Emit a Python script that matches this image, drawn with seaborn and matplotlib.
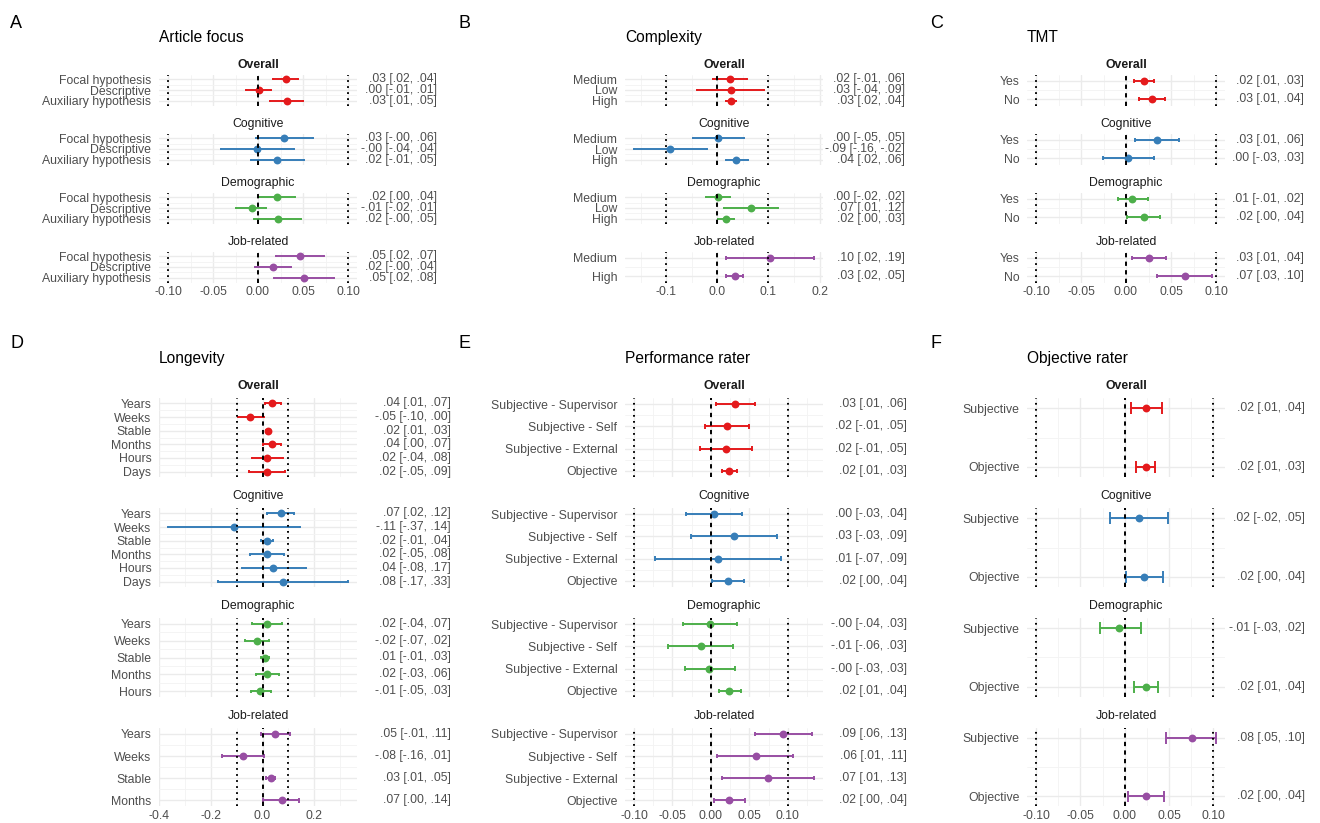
import numpy as np
import pandas as pd
import matplotlib
matplotlib.use('Agg')
import matplotlib.pyplot as plt
import seaborn as sns
from matplotlib.transforms import blended_transform_factory

sns.set_theme(style='white')
plt.rcParams['font.family'] = ['Liberation Sans', 'DejaVu Sans']
plt.rcParams['axes.axisbelow'] = True

# ---------------- data ----------------
groups = ['Overall', 'Cognitive', 'Demographic', 'Job-related']
group_colors = ['#E41A1C', '#377EB8', '#4DAF4A', '#984EA3']

# A: Article focus
article_levels = [['Focal hypothesis', 'Descriptive', 'Auxiliary hypothesis']] * 4
article_est = [[0.031, 0.001, 0.032], [0.029, -0.001, 0.021], [0.021, -0.007, 0.022], [0.047, 0.017, 0.051]]
article_lo = [[0.017, -0.013, 0.013], [-0.002, -0.0415, -0.008], [0.001, -0.024, -0.004], [0.020, -0.003, 0.018]]
article_hi = [[0.044, 0.0147, 0.050], [0.061, 0.040, 0.051], [0.041, 0.009, 0.048], [0.0735, 0.037, 0.0846]]

# B: Complexity
complexity_levels = [['Medium', 'Low', 'High']] * 3 + [['Medium', 'High']]
complexity_est = [[0.024, 0.027, 0.027], [0.002, -0.092, 0.037], [0.002, 0.066, 0.016], [0.102, 0.034]]
complexity_lo = [[-0.008, -0.039, 0.017], [-0.048, -0.163, 0.016], [-0.022, 0.013, 0.001], [0.016, 0.016]]
complexity_hi = [[0.057, 0.092, 0.037], [0.052, -0.021, 0.060], [0.024, 0.119, 0.032], [0.189, 0.050]]

# C: TMT
tmt_levels = [['Yes', 'No']] * 4
tmt_est = [[0.020, 0.029], [0.034, 0.002], [0.007, 0.020], [0.026, 0.066]]
tmt_lo = [[0.009, 0.014], [0.010, -0.026], [-0.009, 0.001], [0.007, 0.034]]
tmt_hi = [[0.031, 0.043], [0.059, 0.031], [0.024, 0.038], [0.044, 0.096]]

# D: Longevity
longevity_levels = [['Years', 'Weeks', 'Stable', 'Months', 'Hours', 'Days']] * 2 + \
                   [['Years', 'Weeks', 'Stable', 'Months', 'Hours'], ['Years', 'Weeks', 'Stable', 'Months']]
longevity_est = [[0.038, -0.047, 0.021, 0.036, 0.018, 0.016],
                 [0.070, -0.112, 0.017, 0.018, 0.042, 0.078],
                 [0.016, -0.022, 0.010, 0.018, -0.008],
                 [0.050, -0.076, 0.032, 0.074]]
longevity_lo = [[0.009, -0.096, 0.012, 0.001, -0.042, -0.053],
                [0.019, -0.366, -0.006, -0.049, -0.079, -0.173],
                [-0.042, -0.068, -0.006, -0.027, -0.046],
                [-0.006, -0.158, 0.012, 0.002]]
longevity_hi = [[0.073, 0.004, 0.029, 0.072, 0.079, 0.086],
                [0.122, 0.144, 0.040, 0.082, 0.167, 0.331],
                [0.074, 0.024, 0.027, 0.064, 0.033],
                [0.106, 0.006, 0.048, 0.143]]

# E: Performance rater
rater_levels = [['Subjective - Supervisor', 'Subjective - Self', 'Subjective - External', 'Objective']] * 4
rater_est = [[0.031, 0.021, 0.020, 0.024], [0.004, 0.030, 0.009, 0.022],
             [-0.001, -0.013, -0.002, 0.024], [0.094, 0.058, 0.074, 0.024]]
rater_lo = [[0.006, -0.008, -0.014, 0.014], [-0.033, -0.026, -0.073, 0.001],
            [-0.036, -0.056, -0.034, 0.011], [0.057, 0.008, 0.014, 0.004]]
rater_hi = [[0.057, 0.049, 0.054, 0.034], [0.041, 0.086, 0.091, 0.043],
            [0.034, 0.029, 0.031, 0.039], [0.131, 0.107, 0.134, 0.044]]

# F: Objective rater
objective_levels = [['Subjective', 'Objective']] * 4
objective_est = [[0.024, 0.024], [0.016, 0.022], [-0.006, 0.024], [0.076, 0.024]]
objective_lo = [[0.007, 0.013], [-0.017, 0.001], [-0.028, 0.011], [0.047, 0.004]]
objective_hi = [[0.042, 0.034], [0.049, 0.043], [0.018, 0.038], [0.103, 0.044]]

# x ticks
ticks_fine = [-0.10, -0.05, 0.00, 0.05, 0.10]
ticks_fine_labels = ['-0.10', '-0.05', '0.00', '0.05', '0.10']
ticks_b = [-0.1, 0.0, 0.1, 0.2]
ticks_b_labels = ['-0.1', '0.0', '0.1', '0.2']
ticks_d = [-0.4, -0.2, 0.0, 0.2]
ticks_d_labels = ['-0.4', '-0.2', '0.0', '0.2']

panels = [
    ('A', 'Article focus', article_levels, article_est, article_lo, article_hi, ticks_fine, ticks_fine_labels),
    ('B', 'Complexity', complexity_levels, complexity_est, complexity_lo, complexity_hi, ticks_b, ticks_b_labels),
    ('C', 'TMT', tmt_levels, tmt_est, tmt_lo, tmt_hi, ticks_fine, ticks_fine_labels),
    ('D', 'Longevity', longevity_levels, longevity_est, longevity_lo, longevity_hi, ticks_d, ticks_d_labels),
    ('E', 'Performance rater', rater_levels, rater_est, rater_lo, rater_hi, ticks_fine, ticks_fine_labels),
    ('F', 'Objective rater', objective_levels, objective_est, objective_lo, objective_hi, ticks_fine, ticks_fine_labels),
]

# ---------------- layout (pixels) ----------------
W, H = 1320, 823
col_left = [159, 625, 1027]
panel_w = 198
row_tops = [[74.5, 133.5, 192.5, 251.5], [398.3, 508.3, 618.3, 728.0]]
row_h = [31, 78.4]
row_expand = [(0.05, 0.31), (0.05, 0.12)]  # (mult, add) like ggplot
text_right = [[437, 905, 1304], [451, 907, 1305]]
letter_x = [10, 459, 930]
letter_base = [28, 348]
title_base = [42, 363.3]
strip_gap = [6.8, 9.0]

GREY = '#4D4D4D'
FS = 8.8


def fmt(v):
    return f"{v:.2f}".replace('0.', '.', 1)


def px_rect(left, top, w, h):
    return [left / W, 1 - (top + h) / H, w / W, h / H]


fig = plt.figure(figsize=(13.2, 8.23), dpi=100)

for p, (letter, title, levels, est, lo, hi, ticks, tick_labels) in enumerate(panels):
    r, c = divmod(p, 3)
    all_lo = min(min(min(v) for v in lo), -0.1)
    all_hi = max(max(max(v) for v in hi), 0.1)
    xpad = 0.05 * (all_hi - all_lo)
    xlim = (all_lo - xpad, all_hi + xpad)
    step = ticks[1] - ticks[0]

    fig.text(letter_x[c] / W, 1 - letter_base[r] / H, letter, fontsize=13,
             color='black', ha='left', va='baseline')
    fig.text(col_left[c] / W, 1 - title_base[r] / H, title, fontsize=11.2,
             color='black', ha='left', va='baseline')

    for g in range(4):
        top = row_tops[r][g]
        ax = fig.add_axes(px_rect(col_left[c], top, panel_w, row_h[r]))
        lv = levels[g]
        n = len(lv)
        d = pd.DataFrame({'level': lv, 'pos': np.arange(n), 'est': est[g], 'lo': lo[g], 'hi': hi[g]})
        color = group_colors[g]

        ax.hlines(d['pos'], d['lo'], d['hi'], color=color, lw=1.4, zorder=2)
        ax.vlines(d['lo'], d['pos'] - 0.1, d['pos'] + 0.1, color=color, lw=1.4, zorder=2)
        ax.vlines(d['hi'], d['pos'] - 0.1, d['pos'] + 0.1, color=color, lw=1.4, zorder=2)
        sns.scatterplot(data=d, x='est', y='pos', color=color, s=32, linewidth=0,
                        zorder=3, legend=False, ax=ax)

        ax.axvline(0, color='black', lw=1.4, ls=(0, (2.2, 2.2)), zorder=4)
        for v in (-0.1, 0.1):
            ax.axvline(v, color='black', lw=1.4, ls=(0, (0.9, 2.2)), zorder=4)

        mult, add = row_expand[r]
        ypad = mult * (n - 1) + add
        ax.set_ylim(n - 1 + ypad, -ypad)
        ax.set_xlim(*xlim)

        ax.set_yticks(d['pos'], labels=lv)
        ax.set_yticks(np.arange(n - 1) + 0.5, minor=True)
        ax.set_xticks(ticks, labels=tick_labels)
        minor = np.arange(ticks[0] - step / 2, xlim[1], step)
        ax.set_xticks([m for m in minor if xlim[0] < m < xlim[1]], minor=True)
        ax.grid(which='major', color='#EBEBEB', lw=1.0)
        ax.grid(which='minor', color='#F3F3F3', lw=0.6)
        ax.tick_params(which='both', length=0)
        ax.tick_params(axis='y', labelsize=FS, labelcolor=GREY, pad=5.5)
        ax.tick_params(axis='x', labelsize=FS, labelcolor=GREY, pad=2.5)
        if g < 3:
            ax.tick_params(axis='x', labelbottom=False)
        for s in ax.spines.values():
            s.set_visible(False)
        ax.set_xlabel('')
        ax.set_ylabel('')

        # strip title
        ax.annotate(groups[g], xy=(0.5, 1), xycoords='axes fraction',
                    xytext=(0, strip_gap[r] * 72 / 100), textcoords='offset points',
                    ha='center', va='baseline', fontsize=FS, color='#1A1A1A',
                    fontweight='bold' if g == 0 else 'normal')

        # estimate labels on the right
        tr = blended_transform_factory(ax.transAxes, ax.transData)
        xr = (text_right[r][c] - col_left[c]) / panel_w
        for _, row in d.iterrows():
            ax.text(xr, row['pos'], f"{fmt(row['est'])} [{fmt(row['lo'])}, {fmt(row['hi'])}]",
                    transform=tr, ha='right', va='center', fontsize=FS, color=GREY, clip_on=False)

fig.savefig('out.png', dpi=100)
